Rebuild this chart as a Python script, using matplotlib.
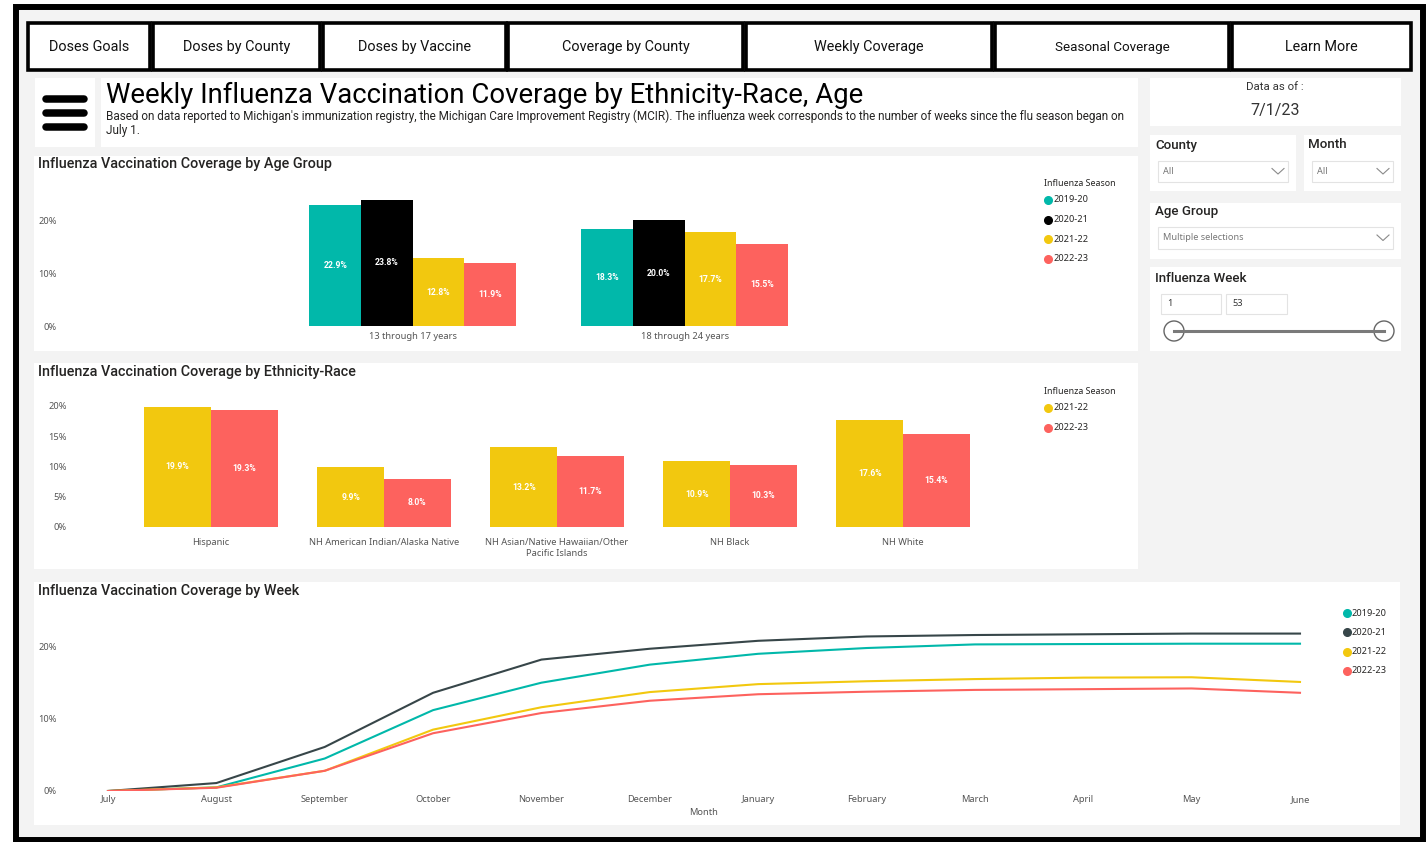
import matplotlib
matplotlib.use("Agg")
import matplotlib.pyplot as plt
from matplotlib.patches import Rectangle, Circle
import numpy as np

# Coverage by age group (%)
age_groups = ["13 through 17 years", "18 through 24 years"]
age_2019_20 = [22.9, 18.3]
age_2020_21 = [23.8, 20.0]
age_2021_22 = [12.8, 17.7]
age_2022_23 = [11.9, 15.5]

# Coverage by ethnicity-race (%)
ethnicities = ["Hispanic", "NH American Indian/Alaska Native",
               "NH Asian/Native Hawaiian/Other\nPacific Islands", "NH Black", "NH White"]
eth_2021_22 = [19.9, 9.9, 13.2, 10.9, 17.6]
eth_2022_23 = [19.3, 8.0, 11.7, 10.3, 15.4]

# Cumulative coverage by month of the season (%)
months = ["July", "August", "September", "October", "November", "December",
          "January", "February", "March", "April", "May", "June"]
week_2019_20 = [0.0, 0.5, 4.5, 11.2, 15.0, 17.5, 19.0, 19.8, 20.3, 20.35, 20.4, 20.4]
week_2020_21 = [0.0, 1.1, 6.1, 13.6, 18.2, 19.7, 20.8, 21.4, 21.6, 21.7, 21.8, 21.8]
week_2021_22 = [0.0, 0.5, 2.8, 8.5, 11.6, 13.7, 14.8, 15.2, 15.5, 15.7, 15.75, 15.1]
week_2022_23 = [0.0, 0.45, 2.8, 8.0, 10.8, 12.5, 13.4, 13.75, 14.0, 14.1, 14.2, 13.6]

seasons = ["2019-20", "2020-21", "2021-22", "2022-23"]
tabs = ["Doses Goals", "Doses by County", "Doses by Vaccine", "Coverage by County",
        "Weekly Coverage", "Seasonal Coverage", "Learn More"]

TEAL, BLACK, DARK, YELLOW, RED = "#01B8AA", "#000000", "#374649", "#F2C80F", "#FD625E"
TICK = "#555555"
DIN = "Roboto"

W, H = 1427, 842
plt.rcParams["font.family"] = ["Noto Sans", "DejaVu Sans"]

fig = plt.figure(figsize=(W / 100, H / 100), dpi=100)

# full-figure axes in pixel units for the report canvas
bg = fig.add_axes([0, 0, 1, 1])
bg.set_xlim(0, W)
bg.set_ylim(H, 0)
bg.axis("off")


def panel(x0, y0, x1, y1, fc="white", ec="none", lw=0):
    bg.add_patch(Rectangle((x0, y0), x1 - x0, y1 - y0, facecolor=fc, edgecolor=ec, lw=lw))


def px_axes(x0, y0, x1, y1):
    return fig.add_axes([x0 / W, 1 - y1 / H, (x1 - x0) / W, (y1 - y0) / H])


def style_axes(ax, yticks, ypad, xpad):
    ax.set_facecolor("none")
    for s in ax.spines.values():
        s.set_visible(False)
    ax.set_yticks(yticks)
    ax.set_yticklabels([f"{t}%" for t in yticks])
    ax.tick_params(length=0, labelsize=6.7, labelcolor=TICK)
    ax.tick_params(axis="y", pad=ypad)
    ax.tick_params(axis="x", pad=xpad)


def legend(x, y, labels, colors, step, title=None):
    if title:
        bg.text(x - 4, y, title, fontsize=6.4, color="#252423", va="center")
        y += 17
    for lab, col in zip(labels, colors):
        bg.plot(x, y, "o", color=col, ms=5.5)
        bg.text(x + 5, y, lab, fontsize=6.6, color="#252423", va="center")
        y += step


def value_labels(ax, bars, vals):
    ax.bar_label(bars, labels=[f"{v:.1f}%" for v in vals], label_type="center",
                 color="white", fontsize=6.2, fontweight="bold", family=DIN)


# canvas and outer frame
panel(15.5, 7, 1423, 840, fc="#F3F3F3", ec="black", lw=4.3)

# navigation tabs
tab_edges = [(28, 150), (153, 320), (323, 506), (508, 743), (746, 992), (995, 1229), (1232, 1411)]
for (x0, x1), name in zip(tab_edges, tabs):
    panel(x0, 23, x1, 70, ec="black", lw=2.6)
    size = 9.6 if name == "Seasonal Coverage" else 10.4
    bg.text((x0 + x1) / 2, 47, name, fontsize=size, family=DIN, ha="center", va="center",
            color="#111111")

# header
panel(35, 78, 95, 147)
for y in (99, 113, 127):
    bg.plot([46, 84], [y, y], color="black", lw=5.4, solid_capstyle="round")
panel(101, 78, 1138, 147)
bg.text(106, 95, "Weekly Influenza Vaccination Coverage by Ethnicity-Race, Age",
        fontsize=19.8, family=DIN, va="center", color="black")
bg.text(106, 116.5, "Based on data reported to Michigan's immunization registry, the Michigan Care "
        "Improvement Registry (MCIR). The influenza week corresponds to the number of weeks "
        "since the flu season began on", fontsize=8.5, family=DIN, va="center", color="#252423")
bg.text(106, 130.5, "July 1.", fontsize=8.5, family=DIN, va="center", color="#252423")

# slicers on the right
panel(1150, 78, 1401, 126)
bg.text(1275, 87.5, "Data as of :", fontsize=8.2, family=DIN, ha="center", va="center", color="#333333")
bg.text(1275, 110, "7/1/23", fontsize=11.5, family=DIN, ha="center", va="center", color="#333333")


def dropdown(x0, y0, x1, y1, text):
    panel(x0, y0, x1, y1, ec="#E3E3E3", lw=0.8)
    bg.text(x0 + 5, (y0 + y1) / 2, text, fontsize=6.6, color="#777777", va="center")
    cx, cy = x1 - 10, (y0 + y1) / 2
    bg.plot([cx - 6, cx, cx + 6], [cy - 3, cy + 2.5, cy - 3], color="#8A8A8A", lw=0.8)


panel(1150, 135, 1296, 191)
bg.text(1155, 145, "County", fontsize=9.6, family=DIN, fontweight="medium", va="center",
        color="#252423")
dropdown(1158, 161, 1288, 182, "All")
panel(1304, 135, 1401, 191)
bg.text(1308, 145, "Month", fontsize=9.6, family=DIN, fontweight="medium", va="center",
        color="#252423")
dropdown(1312, 161, 1393, 182, "All")
panel(1150, 203, 1401, 259)
bg.text(1155, 212, "Age Group", fontsize=9.6, family=DIN, fontweight="medium", va="center",
        color="#252423")
dropdown(1158, 227, 1393, 249, "Multiple selections")
panel(1150, 267, 1401, 351)
bg.text(1155, 279, "Influenza Week", fontsize=9.6, family=DIN, fontweight="medium", va="center",
        color="#252423")
panel(1161, 294, 1221, 314, ec="#E3E3E3", lw=0.8)
panel(1226, 294, 1287, 314, ec="#E3E3E3", lw=0.8)
bg.text(1167, 304, "1", fontsize=6.6, va="center", color="#333333")
bg.text(1232, 304, "53", fontsize=6.6, va="center", color="#333333")
bg.plot([1174, 1384], [331, 331], color="#7A7A7A", lw=2.2)
for cx in (1174, 1384):
    bg.add_patch(Circle((cx, 331), 10, facecolor="white", edgecolor="#666666", lw=1))

# chart cards
panel(34, 156, 1138, 351)
panel(34, 363, 1138, 569)
panel(34, 582, 1400, 825)
for y, title in [(164, "Influenza Vaccination Coverage by Age Group"),
                 (372, "Influenza Vaccination Coverage by Ethnicity-Race"),
                 (591, "Influenza Vaccination Coverage by Week")]:
    bg.text(38, y, title, fontsize=10.4, family=DIN, fontweight="medium", va="center",
            color="#252423")

# age group bars
ax1 = px_axes(62, 175, 1030, 326)
x = np.arange(len(age_groups))
w = 0.19
age_series = [age_2019_20, age_2020_21, age_2021_22, age_2022_23]
for k, (vals, col) in enumerate(zip(age_series, [TEAL, BLACK, YELLOW, RED])):
    bars = ax1.bar(x + (k - 1.5) * w, vals, w, color=col)
    value_labels(ax1, bars, vals)
ax1.set_xticks(x)
ax1.set_xticklabels(age_groups)
ax1.set_xlim(-1.29, 2.27)
ax1.set_ylim(0, 28.5)
style_axes(ax1, [0, 10, 20], ypad=3.6, xpad=4)
legend(1048, 183, seasons, [TEAL, BLACK, YELLOW, RED], 19.5, title="Influenza Season")

# ethnicity-race bars
ax2 = px_axes(75, 390, 1030, 527)
x = np.arange(len(ethnicities))
w = 0.385
for k, (vals, col) in enumerate(zip([eth_2021_22, eth_2022_23], [YELLOW, RED])):
    bars = ax2.bar(x + (k - 0.5) * w, vals, w, color=col)
    value_labels(ax2, bars, vals)
ax2.set_xticks(x)
ax2.set_xticklabels(ethnicities)
ax2.set_xlim(-0.786, 4.734)
ax2.set_ylim(0, 22.64)
style_axes(ax2, [0, 5, 10, 15, 20], ypad=5.8, xpad=8)
legend(1048, 391, seasons[2:], [YELLOW, RED], 19.5, title="Influenza Season")

# weekly coverage lines
ax3 = px_axes(62, 600, 1346, 791)
x = np.arange(len(months))
week_series = [week_2019_20, week_2020_21, week_2021_22, week_2022_23]
for vals, col in zip(week_series, [TEAL, DARK, YELLOW, RED]):
    ax3.plot(x, vals, color=col, lw=1.5)
ax3.set_xticks(x)
ax3.set_xticklabels(months)
ax3.set_xlim(-0.4245, 11.4245)
ax3.set_ylim(0, 26.45)
style_axes(ax3, [0, 10, 20], ypad=3.6, xpad=3)
ax3.set_xlabel("Month", fontsize=6.7, color=TICK, labelpad=3)
legend(1347, 613, seasons, [TEAL, DARK, YELLOW, RED], 19.3)

fig.savefig("out.png", dpi=100)
